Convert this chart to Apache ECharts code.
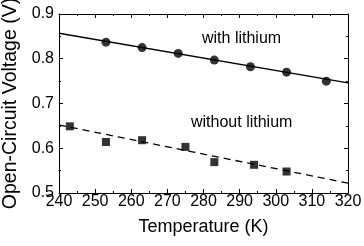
<!DOCTYPE html>
<html>
<head>
<meta charset="utf-8">
<script src="https://cdn.jsdelivr.net/npm/echarts@6/dist/echarts.min.js"></script>
<style>
  html, body { margin: 0; padding: 0; background: #fff; }
  #chart { width: 364px; height: 246px; }
</style>
</head>
<body>
<div id="chart"></div>
<script>
// temperature (K) / voltage (V)
var withLiT = [253, 263, 273, 283, 293, 303, 314];
var withLiV = [0.837, 0.825, 0.812, 0.797, 0.782, 0.770, 0.750];
var withoutLiT = [243, 253, 263, 275, 283, 294, 303];
var withoutLiV = [0.649, 0.614, 0.618, 0.603, 0.569, 0.563, 0.548];
// linear fit end points
var fitWithT = [240, 320];
var fitWithV = [0.857, 0.746];
var fitWithoutT = [240, 320];
var fitWithoutV = [0.652, 0.522];

function pairs(xs, ys) {
    var out = [];
    for (var i = 0; i < xs.length; i++) out.push([xs[i], ys[i]]);
    return out;
}

var font = 'Liberation Sans, Arial, sans-serif';
var chart = echarts.init(document.getElementById('chart'));

var tickStyle = { show: true, inside: true, length: 4, lineStyle: { color: '#000', width: 1 } };
var minorStyle = { show: true, splitNumber: 2, length: 2, lineStyle: { color: '#000', width: 1 } };

chart.setOption({
    animation: false,
    grid: { left: 59, right: 16, top: 14, bottom: 53, outerBoundsMode: 'none', containLabel: false },
    xAxis: [{
        type: 'value', min: 240, max: 320, interval: 10,
        name: 'Temperature (K)', nameLocation: 'middle', nameGap: 25,
        nameTextStyle: { fontFamily: font, fontSize: 18, color: '#000' },
        axisLine: { show: true, onZero: false, lineStyle: { color: '#000', width: 1 } },
        axisTick: tickStyle, minorTick: minorStyle,
        axisLabel: { fontFamily: font, fontSize: 16, color: '#000', margin: 1 },
        splitLine: { show: false }
    }, {
        type: 'value', position: 'top', min: 240, max: 320, interval: 10,
        axisLine: { show: true, onZero: false, lineStyle: { color: '#000', width: 1 } },
        axisTick: tickStyle, minorTick: minorStyle,
        axisLabel: { show: false }, splitLine: { show: false }
    }],
    yAxis: [{
        type: 'value', min: 0.5, max: 0.9, interval: 0.1,
        name: 'Open-Circuit Voltage (V)', nameLocation: 'middle', nameGap: 34,
        nameTextStyle: { fontFamily: font, fontSize: 19.5, color: '#000' },
        axisLine: { show: true, onZero: false, lineStyle: { color: '#000', width: 1 } },
        axisTick: tickStyle, minorTick: minorStyle,
        axisLabel: { fontFamily: font, fontSize: 16, color: '#000', margin: 5,
            formatter: function (v) { return v.toFixed(1); } },
        splitLine: { show: false }
    }, {
        type: 'value', position: 'right', min: 0.5, max: 0.9, interval: 0.1,
        axisLine: { show: true, onZero: false, lineStyle: { color: '#000', width: 1 } },
        axisTick: tickStyle, minorTick: minorStyle,
        axisLabel: { show: false }, splitLine: { show: false }
    }],
    series: [{
        type: 'line', data: pairs(fitWithT, fitWithV), symbol: 'none',
        lineStyle: { color: '#000', width: 1.3 }, z: 2
    }, {
        type: 'line', data: pairs(fitWithoutT, fitWithoutV), symbol: 'none',
        lineStyle: { color: '#000', width: 1.3, type: [7, 5] }, z: 2
    }, {
        type: 'scatter', data: pairs(withLiT, withLiV), symbol: 'circle', symbolSize: 9,
        itemStyle: { color: '#000' }, z: 3
    }, {
        type: 'scatter', data: pairs(withoutLiT, withoutLiV), symbol: 'rect', symbolSize: 8,
        itemStyle: { color: '#000' }, z: 3
    }],
    graphic: [{
        type: 'text', left: 202, top: 31,
        style: { text: 'with lithium', fontFamily: font, fontSize: 16, fill: '#000' }
    }, {
        type: 'text', left: 191, top: 115,
        style: { text: 'without lithium', fontFamily: font, fontSize: 16, fill: '#000' }
    }]
});
</script>
</body>
</html>
